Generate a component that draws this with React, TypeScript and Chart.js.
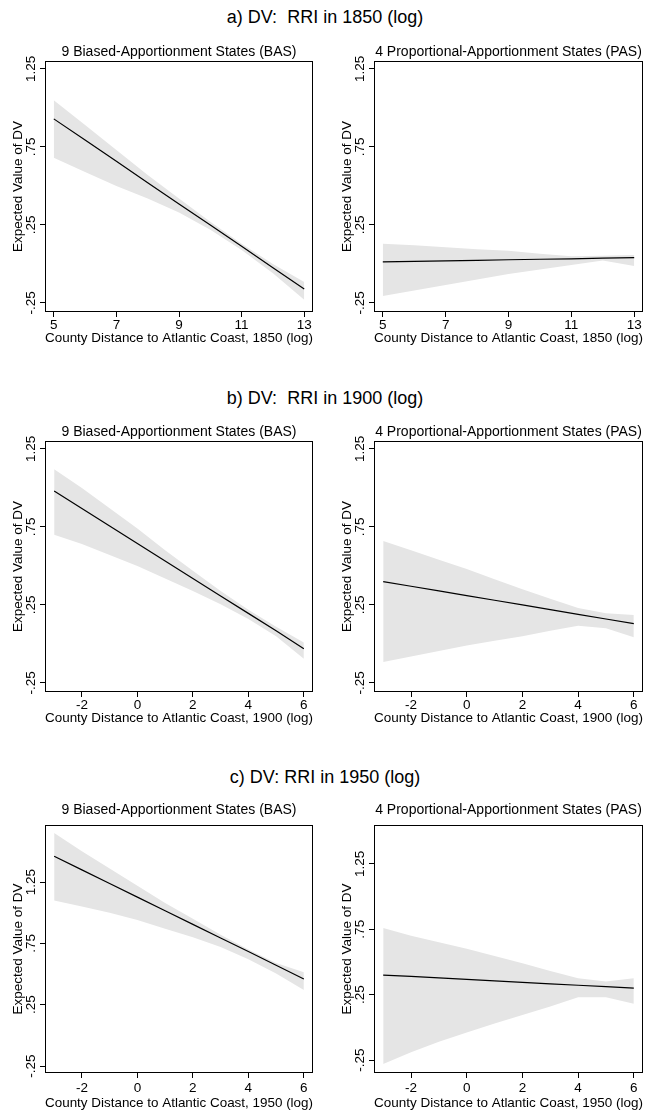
import React, { useEffect, useRef } from "react";
import { Chart, registerables } from "chart.js";

Chart.register(...registerables);

// ---------- data ----------
const X_1850 = [5, 6, 7, 8, 9, 10, 11, 12, 13];
const X_LATE = [-3, -2, -1, 0, 1, 2, 3, 4, 5, 6];

const X_TICKS_1850 = [5, 7, 9, 11, 13];
const X_TICKS_LATE = [-2, 0, 2, 4, 6];
const Y_TICKS = [-0.25, 0.25, 0.75, 1.25];
const Y_TICK_LABELS = ["-.25", ".25", ".75", "1.25"];

const SECTION_TITLES = ["a) DV:  RRI in 1850 (log)", "b) DV:  RRI in 1900 (log)", "c) DV: RRI in 1950 (log)"];
const PANEL_TITLES = ["9 Biased-Apportionment States (BAS)", "4 Proportional-Apportionment States (PAS)"];
const Y_TITLE = "Expected Value of DV";
const X_TITLES = [
  "County Distance to Atlantic Coast, 1850 (log)",
  "County Distance to Atlantic Coast, 1900 (log)",
  "County Distance to Atlantic Coast, 1950 (log)",
];

// a) 1850
const A_BAS_FIT = [0.93, 0.794, 0.658, 0.521, 0.385, 0.249, 0.113, -0.024, -0.16];
const A_BAS_UP = [1.05, 0.89, 0.73, 0.57, 0.42, 0.27, 0.13, 0.0, -0.115];
const A_BAS_LO = [0.68, 0.59, 0.5, 0.42, 0.33, 0.22, 0.09, -0.06, -0.23];
const A_PAS_FIT = [0.013, 0.016, 0.02, 0.023, 0.027, 0.03, 0.033, 0.037, 0.04];
const A_PAS_UP = [0.13, 0.12, 0.107, 0.095, 0.085, 0.066, 0.05, 0.052, 0.058];
const A_PAS_LO = [-0.205, -0.17, -0.135, -0.1, -0.065, -0.035, -0.006, 0.022, -0.013];

// b) 1900
const B_BAS_FIT = [0.98, 0.868, 0.756, 0.644, 0.532, 0.42, 0.308, 0.196, 0.084, -0.03];
const B_BAS_UP = [1.12, 1.0, 0.87, 0.74, 0.6, 0.47, 0.34, 0.22, 0.11, 0.01];
const B_BAS_LO = [0.7, 0.64, 0.57, 0.5, 0.42, 0.34, 0.255, 0.16, 0.05, -0.095];
const B_PAS_FIT = [0.4, 0.37, 0.34, 0.31, 0.28, 0.25, 0.22, 0.19, 0.16, 0.13];
const B_PAS_UP = [0.66, 0.6, 0.54, 0.48, 0.415, 0.35, 0.29, 0.23, 0.197, 0.186];
const B_PAS_LO = [-0.115, -0.08, -0.045, -0.01, 0.02, 0.05, 0.085, 0.117, 0.1, 0.043];

// c) 1950
const C_BAS_FIT = [1.46, 1.349, 1.238, 1.127, 1.016, 0.905, 0.794, 0.683, 0.572, 0.46];
const C_BAS_UP = [1.65, 1.5, 1.36, 1.22, 1.08, 0.95, 0.82, 0.7, 0.59, 0.515];
const C_BAS_LO = [1.1, 1.05, 1.0, 0.94, 0.87, 0.8, 0.72, 0.62, 0.505, 0.37];
const C_PAS_FIT = [0.4, 0.389, 0.378, 0.367, 0.356, 0.344, 0.333, 0.322, 0.311, 0.3];
const C_PAS_UP = [0.76, 0.7, 0.65, 0.6, 0.545, 0.49, 0.43, 0.375, 0.35, 0.375];
const C_PAS_LO = [-0.28, -0.19, -0.11, -0.04, 0.03, 0.095, 0.16, 0.23, 0.23, 0.18];

// ---------- styling ----------
const FONT = "'Liberation Sans', Arial, Helvetica, sans-serif";
const BAND = "#e5e5e5";

type RowLayout = {
  top: number;
  height: number;
  titleTop: number;
  titleBottom: number;
  xHeight: number;
  xTickPad: number;
  xTitlePad: number;
};

const ROW_A: RowLayout = { top: 40, height: 310, titleTop: 3.6, titleBottom: 0.6, xHeight: 38, xTickPad: 0.2, xTitlePad: 3.9 };
const ROW_B: RowLayout = { top: 420, height: 310, titleTop: 3.6, titleBottom: 0.6, xHeight: 38, xTickPad: 0.2, xTitlePad: 3.9 };
const ROW_C: RowLayout = { top: 795, height: 319, titleTop: 6.6, titleBottom: 6.6, xHeight: 41, xTickPad: 2.2, xTitlePad: 2.9 };

type PanelSpec = {
  left: number;
  width: number;
  padRight: number;
  row: RowLayout;
  title: string;
  xTitle: string;
  xs: number[];
  xTicks: number[];
  xMin: number;
  xMax: number;
  yMin: number;
  yMax: number;
  fit: number[];
  up: number[];
  lo: number[];
};

const zip = (xs: number[], ys: number[]) => xs.map((x, i) => ({ x, y: ys[i] }));

const framePlugin = {
  id: "frame",
  afterDatasetsDraw(chart: any) {
    const { ctx, chartArea } = chart;
    const l = Math.round(chartArea.left) + 0.5;
    const t = Math.round(chartArea.top) + 0.5;
    const r = Math.round(chartArea.right) - 0.5;
    const b = Math.round(chartArea.bottom) - 0.5;
    ctx.save();
    ctx.strokeStyle = "#000";
    ctx.lineWidth = 1;
    ctx.strokeRect(l, t, r - l, b - t);
    ctx.restore();
  },
};

function Panel({ spec }: { spec: PanelSpec }) {
  const ref = useRef<HTMLCanvasElement | null>(null);
  useEffect(() => {
    if (!ref.current) return;
    const s = spec;
    const chart = new Chart(ref.current, {
      type: "line",
      data: {
        datasets: [
          {
            data: zip(s.xs, s.fit),
            borderColor: "#000",
            borderWidth: 1.2,
            pointRadius: 0,
            fill: false,
            tension: 0,
          },
          {
            data: zip(s.xs, s.up),
            borderColor: "rgba(0,0,0,0)",
            borderWidth: 0,
            backgroundColor: BAND,
            pointRadius: 0,
            fill: "+1",
            tension: 0,
          },
          {
            data: zip(s.xs, s.lo),
            borderColor: "rgba(0,0,0,0)",
            borderWidth: 0,
            backgroundColor: BAND,
            pointRadius: 0,
            fill: false,
            tension: 0,
          },
        ],
      } as any,
      options: {
        responsive: false,
        animation: false,
        devicePixelRatio: 1,
        events: [],
        layout: { padding: { left: 0, right: s.padRight, top: 0, bottom: 0 } },
        plugins: {
          legend: { display: false },
          tooltip: { enabled: false },
          filler: { propagate: false },
          title: {
            display: true,
            text: s.title,
            fullSize: false,
            color: "#000",
            font: { family: FONT, size: 14, weight: "normal" },
            padding: { top: s.row.titleTop, bottom: s.row.titleBottom },
          },
        },
        scales: {
          x: {
            type: "linear",
            min: s.xMin,
            max: s.xMax,
            afterBuildTicks: (scale: any) => {
              scale.ticks = s.xTicks.map((v) => ({ value: v }));
            },
            afterFit: (scale: any) => {
              scale.height = s.row.xHeight;
            },
            ticks: {
              autoSkip: false,
              maxRotation: 0,
              minRotation: 0,
              color: "#000",
              padding: s.row.xTickPad,
              font: { family: FONT, size: 13.5 },
              callback: (v: any) => String(v),
            },
            grid: { drawOnChartArea: false, drawTicks: true, tickLength: 5, color: "#000", lineWidth: 1 },
            border: { display: false },
            title: {
              display: true,
              text: s.xTitle,
              color: "#000",
              font: { family: FONT, size: 13.5 },
              padding: { top: 0, bottom: s.row.xTitlePad },
            },
          },
          y: {
            type: "linear",
            min: s.yMin,
            max: s.yMax,
            afterBuildTicks: (scale: any) => {
              scale.ticks = Y_TICKS.map((v) => ({ value: v }));
            },
            afterFit: (scale: any) => {
              scale.width = 45;
            },
            ticks: {
              autoSkip: false,
              minRotation: 90,
              maxRotation: 90,
              crossAlign: "center",
              padding: -4.9,
              color: "#000",
              font: { family: FONT, size: 13.5 },
              callback: (v: any) => {
                const i = Y_TICKS.indexOf(v);
                return i >= 0 ? Y_TICK_LABELS[i] : "";
              },
            },
            grid: { drawOnChartArea: false, drawTicks: true, tickLength: 5, color: "#000", lineWidth: 1 },
            border: { display: false },
            title: {
              display: true,
              text: Y_TITLE,
              color: "#000",
              font: { family: FONT, size: 13.5 },
              padding: { top: 10, bottom: 0 },
            },
          },
        },
      } as any,
      plugins: [framePlugin],
    });
    return () => chart.destroy();
  }, [spec]);

  return (
    <div style={{ position: "absolute", left: spec.left, top: spec.row.top, width: spec.width, height: spec.row.height }}>
      <canvas ref={ref} width={spec.width} height={spec.row.height} style={{ width: spec.width, height: spec.row.height, display: "block" }} />
    </div>
  );
}

const X1850_MIN = 4.72;
const X1850_MAX = 13.28;
const XLATE_MIN = -3.33;
const XLATE_MAX = 6.33;

const PANELS: PanelSpec[] = [
  { left: 0, width: 325, padRight: 12, row: ROW_A, title: PANEL_TITLES[0], xTitle: X_TITLES[0], xs: X_1850, xTicks: X_TICKS_1850, xMin: X1850_MIN, xMax: X1850_MAX, yMin: -0.308, yMax: 1.301, fit: A_BAS_FIT, up: A_BAS_UP, lo: A_BAS_LO },
  { left: 329, width: 321, padRight: 7, row: ROW_A, title: PANEL_TITLES[1], xTitle: X_TITLES[0], xs: X_1850, xTicks: X_TICKS_1850, xMin: X1850_MIN, xMax: X1850_MAX, yMin: -0.308, yMax: 1.301, fit: A_PAS_FIT, up: A_PAS_UP, lo: A_PAS_LO },
  { left: 0, width: 325, padRight: 12, row: ROW_B, title: PANEL_TITLES[0], xTitle: X_TITLES[1], xs: X_LATE, xTicks: X_TICKS_LATE, xMin: XLATE_MIN, xMax: XLATE_MAX, yMin: -0.308, yMax: 1.301, fit: B_BAS_FIT, up: B_BAS_UP, lo: B_BAS_LO },
  { left: 329, width: 321, padRight: 7, row: ROW_B, title: PANEL_TITLES[1], xTitle: X_TITLES[1], xs: X_LATE, xTicks: X_TICKS_LATE, xMin: XLATE_MIN, xMax: XLATE_MAX, yMin: -0.308, yMax: 1.301, fit: B_PAS_FIT, up: B_PAS_UP, lo: B_PAS_LO },
  { left: 0, width: 325, padRight: 12, row: ROW_C, title: PANEL_TITLES[0], xTitle: X_TITLES[2], xs: X_LATE, xTicks: X_TICKS_LATE, xMin: XLATE_MIN, xMax: XLATE_MAX, yMin: -0.307, yMax: 1.715, fit: C_BAS_FIT, up: C_BAS_UP, lo: C_BAS_LO },
  { left: 329, width: 321, padRight: 7, row: ROW_C, title: PANEL_TITLES[1], xTitle: X_TITLES[2], xs: X_LATE, xTicks: X_TICKS_LATE, xMin: XLATE_MIN, xMax: XLATE_MAX, yMin: -0.349, yMax: 1.547, fit: C_PAS_FIT, up: C_PAS_UP, lo: C_PAS_LO },
];

const SECTION_CENTERS = [17, 398, 777];

export default function App() {
  return (
    <div style={{ position: "absolute", left: 0, top: 0, width: 650, height: 1114, background: "#fff", overflow: "hidden" }}>
      {SECTION_TITLES.map((t, i) => (
        <div
          key={t}
          style={{
            position: "absolute",
            left: 0,
            width: 650,
            top: SECTION_CENTERS[i] - 11,
            height: 22,
            lineHeight: "22px",
            textAlign: "center",
            whiteSpace: "pre",
            fontFamily: FONT,
            fontSize: 18,
            color: "#000",
          }}
        >
          {t}
        </div>
      ))}
      {PANELS.map((p, i) => (
        <Panel key={i} spec={p} />
      ))}
    </div>
  );
}
